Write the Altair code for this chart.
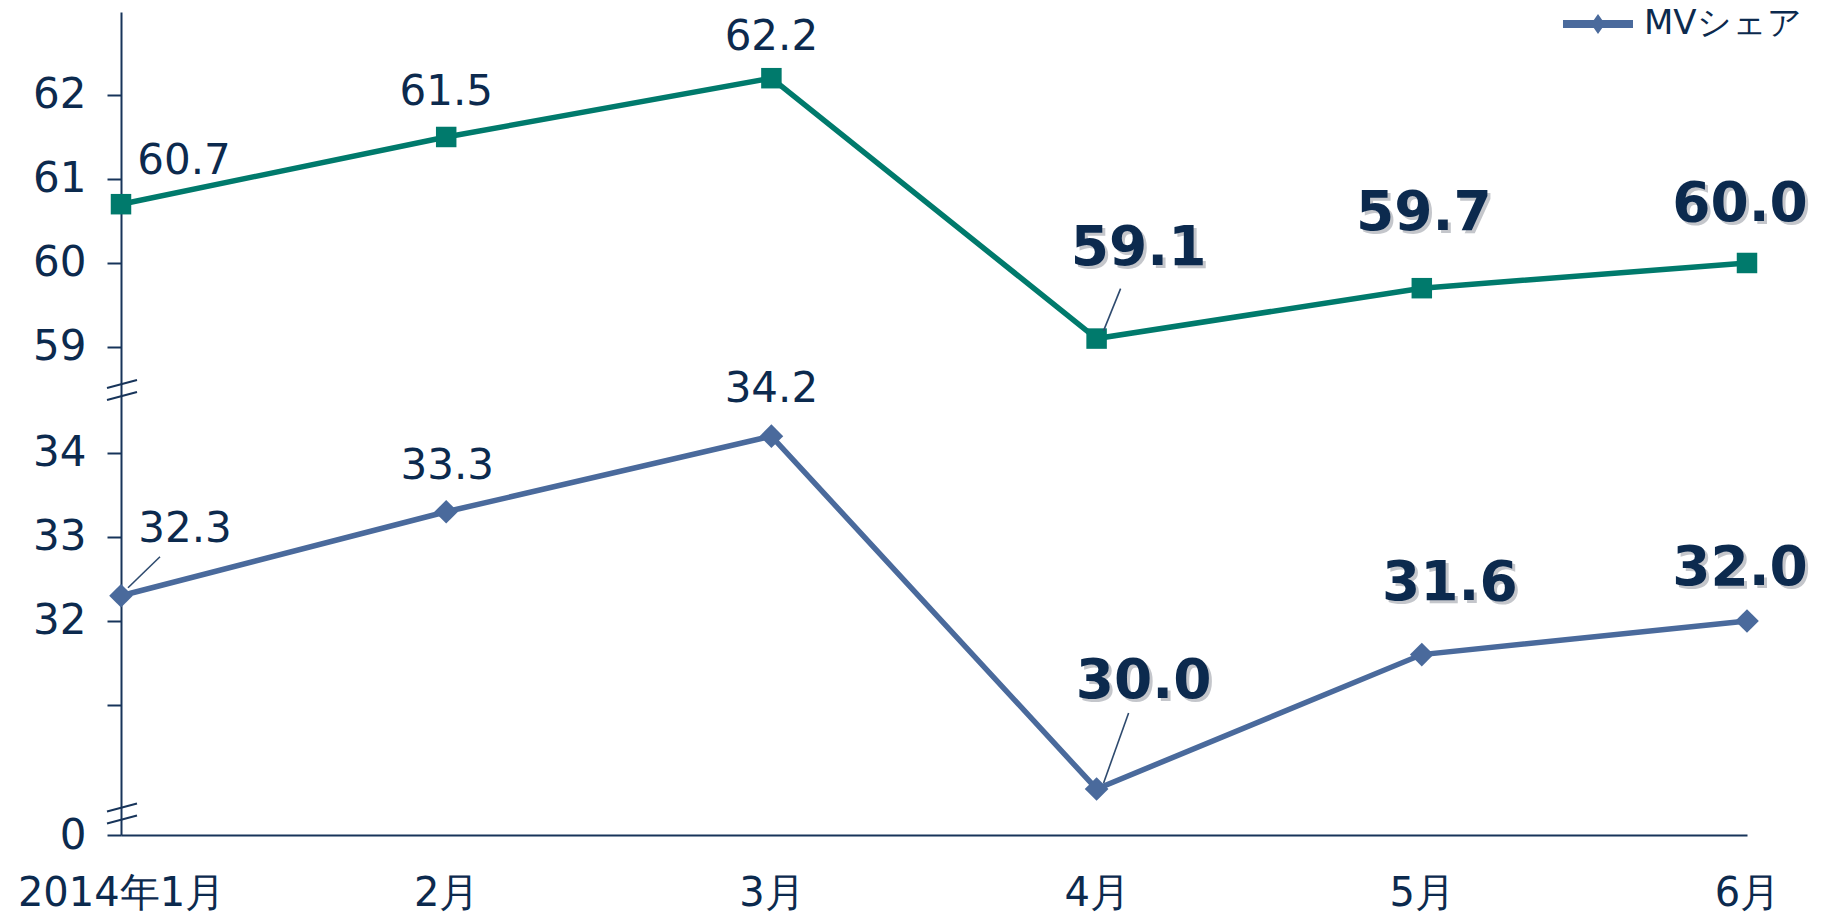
import altair as alt
import pandas as pd

# ---------------- data ----------------
months = ["2014年1月", "2月", "3月", "4月", "5月", "6月"]
upper_values = [60.7, 61.5, 62.2, 59.1, 59.7, 60.0]
mv_values = [32.3, 33.3, 34.2, 30.0, 31.6, 32.0]
mv_name = "MVシェア"
upper_name = "上段シェア"

upper_ticks = [59, 60, 61, 62]
lower_ticks = [31, 32, 33, 34]
lower_labeled = [32, 33, 34]

# ---------------- broken-axis layout (units of lower segment) ----------------
AXIS_BOTTOM = 29.452      # where "0" sits
AXIS_TOP = 39.25
UPPER_SHIFT = 23.738      # upper segment value - shift = plotted position
BREAKS = [29.708, 34.75]

# ---------------- styles ----------------
TEAL = "#007A6C"
BLUE = "#4A6A9C"
NAVY = "#0C2A4E"
AXIS_C = "#17345A"
FONT = "DejaVu Sans"
bold_idx = [3, 4, 5]
upper_dx = [63, 0, 0, 42, 2, -7]
upper_dy = [-43, -45, -41, -91, -75, -59]
mv_dx = [64, 1, 0, 47, 28, -7]
mv_dy = [-67, -46, -47, -108, -72, -53]
# leader lines (series, index, x1, y1, x2, y2 offsets in px)
leaders = [(mv_name, 0, 7, -8, 39, -39), (upper_name, 3, 7, -8, 24, -50), (mv_name, 3, 7, -6, 32, -76)]

# legend symbol: line with a diamond, drawn left of a compact symbol box
LEGEND_PATH = ("M-3.667,-0.267 L-1.613,-0.267 L-1.333,-0.667 L-1.053,-0.267 L1,-0.267 "
               "L1,0.267 L-1.053,0.267 L-1.333,0.667 L-1.613,0.267 L-3.667,0.267 Z")

rows = []
for i, m in enumerate(months):
    rows.append(dict(month=m, idx=i, series=upper_name, value=upper_values[i],
                     plot_y=upper_values[i] - UPPER_SHIFT, label=f"{upper_values[i]:.1f}"))
    rows.append(dict(month=m, idx=i, series=mv_name, value=mv_values[i],
                     plot_y=mv_values[i], label=f"{mv_values[i]:.1f}"))
df = pd.DataFrame(rows)
brk = pd.DataFrame({"b": BREAKS})

tick_vals = [AXIS_BOTTOM] + lower_ticks + [t - UPPER_SHIFT for t in upper_ticks]
label_expr = (
    f"datum.value < {lower_ticks[0] - 0.5} ? '0' : "
    f"datum.value < {lower_labeled[0] - 0.5} ? '' : "
    f"datum.value < {lower_ticks[-1] + 0.5} ? format(datum.value, '.0f') : "
    f"format(datum.value + {UPPER_SHIFT}, '.0f')"
)

YS = alt.Scale(domain=[AXIS_BOTTOM, AXIS_TOP], nice=False, zero=False)
X = alt.X("month:N", sort=months, title=None,
          scale=alt.Scale(type="point", padding=0),
          axis=alt.Axis(labelAngle=0, ticks=False, domainColor=AXIS_C, domainWidth=2,
                        labelFont=FONT, labelFontSize=40, labelColor=NAVY, labelPadding=38,
                        labelLimit=0, grid=False))
Y = alt.Y("plot_y:Q", title=None, scale=YS,
          axis=alt.Axis(values=tick_vals, labelExpr=label_expr, grid=False,
                        domainColor=AXIS_C, domainWidth=2, tickColor=AXIS_C, tickWidth=2,
                        tickSize=14, labelFont=FONT, labelFontSize=42, labelColor=NAVY,
                        labelPadding=21, labelLimit=0))

base = alt.Chart(df)
up = base.transform_filter(alt.datum.series == upper_name)
mv = base.transform_filter(alt.datum.series == mv_name)

layers = []
# axis break slashes
for yo, y2o in [(10, 2), (-2, -10)]:
    layers.append(alt.Chart(brk).mark_rule(color=AXIS_C, strokeWidth=2, yOffset=yo, y2Offset=y2o).encode(
        x=alt.value(-14), x2=alt.value(16),
        y=alt.Y("b:Q", scale=YS), y2="b:Q"))

layers.append(up.mark_line(color=TEAL, strokeWidth=5.5).encode(x=X, y=Y))
layers.append(up.mark_point(shape="square", filled=True, size=420, color=TEAL, opacity=1).encode(x=X, y=Y))
layers.append(mv.mark_line(color=BLUE, strokeWidth=5.5).encode(x=X, y=Y))
layers.append(mv.mark_point(shape="diamond", filled=True, size=560, opacity=1).encode(
    x=X, y=Y,
    color=alt.Color("series:N", scale=alt.Scale(domain=[mv_name], range=[BLUE]),
                    legend=alt.Legend(title=None, orient="none", legendX=1480, legendY=-5,
                                      symbolType=LEGEND_PATH,
                                      symbolSize=900, symbolStrokeWidth=0, symbolFillColor=BLUE,
                                      symbolOpacity=1, labelLimit=0,
                                      labelFont=FONT, labelFontSize=34, labelColor=NAVY,
                                      labelOffset=9, padding=0))))

for s, i, a, b, c, d in leaders:
    layers.append(base.transform_filter((alt.datum.series == s) & (alt.datum.idx == i)).mark_rule(
        color="#2E4A6E", strokeWidth=1.6, xOffset=a, yOffset=b, x2Offset=c, y2Offset=d).encode(
        x=X, x2="month:N", y=Y, y2="plot_y:Q"))

# data labels: one small layer per label so each gets its own offset
for s, dxs, dys in [(upper_name, upper_dx, upper_dy), (mv_name, mv_dx, mv_dy)]:
    for i in range(len(months)):
        one = base.transform_filter((alt.datum.series == s) & (alt.datum.idx == i))
        enc = dict(x=X, y=Y, text="label:N")
        if i in bold_idx:
            layers.append(one.mark_text(font=FONT, fontSize=55, fontWeight="bold", color="#8A8F99",
                                        opacity=0.5, align="center", baseline="middle",
                                        dx=dxs[i] + 3, dy=dys[i] + 3).encode(**enc))
            layers.append(one.mark_text(font=FONT, fontSize=55, fontWeight="bold", color=NAVY,
                                        align="center", baseline="middle",
                                        dx=dxs[i], dy=dys[i]).encode(**enc))
        else:
            layers.append(one.mark_text(font=FONT, fontSize=42, color=NAVY,
                                        align="center", baseline="middle",
                                        dx=dxs[i], dy=dys[i]).encode(**enc))

chart = alt.layer(*layers).properties(
    width=1626, height=823,
    autosize=alt.AutoSizeParams(type="none"),
    padding={"left": 113, "top": 4, "right": 67, "bottom": 79},
    background="white",
).configure_view(stroke=None)

chart.save("out.html", embed_options={"renderer": "svg", "actions": False})
